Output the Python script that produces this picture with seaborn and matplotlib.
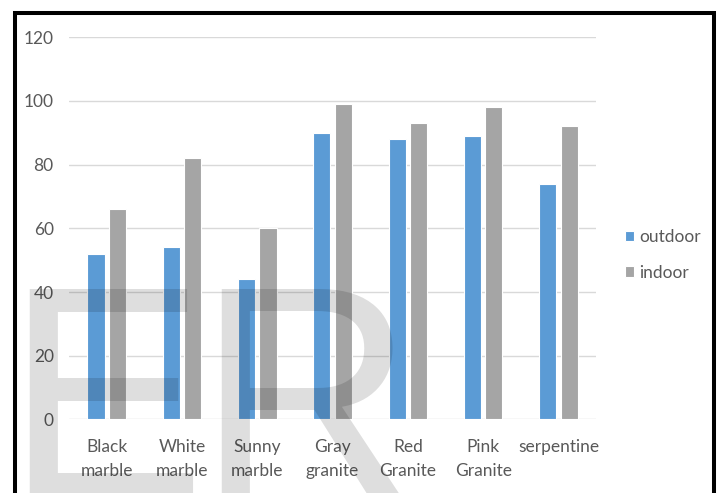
import matplotlib
matplotlib.use("Agg")
import matplotlib.pyplot as plt
from matplotlib.patches import Rectangle
import seaborn as sns
import pandas as pd

# Stone types and measured values for the two exposure conditions
categories = ["Black\nmarble", "White\nmarble", "Sunny\nmarble", "Gray\ngranite",
              "Red\nGranite", "Pink\nGranite", "serpentine"]
outdoor = [52, 54, 44, 90, 88, 89, 74]
indoor = [66, 82, 60, 99, 93, 98, 92]
series_names = ["outdoor", "indoor"]
y_ticks = [0, 20, 40, 60, 80, 100, 120]

sns.set_theme(style="white")
plt.rcParams["font.family"] = ["Lato", "DejaVu Sans"]

text_color = "#595959"
grid_color = "#D9D9D9"
palette = {"outdoor": "#5B9BD5", "indoor": "#A5A5A5"}

df = pd.DataFrame({
    "stone": categories * 2,
    "value": outdoor + indoor,
    "series": [series_names[0]] * len(categories) + [series_names[1]] * len(categories),
})

fig = plt.figure(figsize=(7.18, 4.93), dpi=100)
fig.patch.set_facecolor("white")
ax = fig.add_axes([0.0961, 0.1491, 0.7341, 0.7758])

sns.barplot(data=df, x="stone", y="value", hue="series", palette=palette,
            order=categories, hue_order=series_names, width=0.57, gap=0.2,
            saturation=1, edgecolor="white", linewidth=0.8, ax=ax, zorder=3)

ax.set_ylim(0, 120)
ax.set_xlim(-0.5, len(categories) - 0.5)
ax.set_yticks(y_ticks)
ax.set_yticklabels([str(t) for t in y_ticks])
ax.yaxis.grid(True, color=grid_color, linewidth=1.0, zorder=0)
ax.xaxis.grid(False)
ax.set_axisbelow(True)
for s in ax.spines.values():
    s.set_visible(False)
ax.set_xlabel("")
ax.set_ylabel("")
ax.tick_params(axis="both", length=0, labelsize=12.5, colors=text_color)
ax.tick_params(axis="x", pad=14)
ax.tick_params(axis="y", pad=11)
for lbl in ax.get_xticklabels():
    lbl.set_linespacing(1.65)

# Legend to the right of the plot area
handles, labels = ax.get_legend_handles_labels()
ax.get_legend().remove()
fig.legend(handles, labels, loc="center left", bbox_to_anchor=(0.870, 0.483),
           bbox_transform=fig.transFigure, frameon=False, fontsize=12.5,
           handlelength=0.55, handleheight=0.55, handletextpad=0.3,
           labelspacing=1.15, borderpad=0, borderaxespad=0,
           labelcolor=text_color)

# Large translucent lettering laid over the chart
for letter, xpx in (("E", 4), ("R", 196)):
    fig.text(xpx / 718, 1 - 496 / 493, letter, fontsize=217,
             family=["Liberation Sans", "DejaVu Sans"], color="black", alpha=0.13,
             ha="left", va="baseline", zorder=10)

# Heavy black frame around the figure
fig.patches.append(Rectangle((15 / 718, -0.1), (713.5 - 15) / 718, 0.9746 + 0.1,
                             transform=fig.transFigure, fill=False,
                             edgecolor="black", linewidth=2.9, clip_on=False,
                             zorder=20))

fig.savefig("out.png", dpi=100, facecolor="white")
